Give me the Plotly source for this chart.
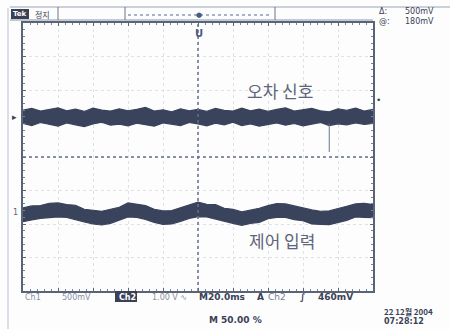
import plotly.graph_objects as go

# ---- data (time in ms, amplitude in divisions) ----
t = [-100, -95, -90, -85, -80, -75, -70, -65, -60, -55, -50, -45, -40, -35, -30,
     -25, -20, -15, -10, -5, 0, 5, 10, 15, 20, 25, 30, 35, 40, 45, 50, 55, 60,
     65, 70, 75, 80, 85, 90, 95, 100]

ch1_upper = [1.40, 1.45, 1.37, 1.42, 1.47, 1.38, 1.43, 1.36, 1.46, 1.40, 1.37,
             1.44, 1.38, 1.42, 1.48, 1.37, 1.41, 1.35, 1.44, 1.38, 1.42, 1.36,
             1.45, 1.39, 1.37, 1.46, 1.38, 1.43, 1.36, 1.42, 1.47, 1.37, 1.41,
             1.45, 1.38, 1.35, 1.44, 1.39, 1.46, 1.37, 1.42]
ch1_lower = [1.00, 0.94, 1.03, 0.97, 0.92, 1.02, 0.96, 0.91, 0.99, 1.04, 0.95,
             0.98, 0.93, 1.01, 0.96, 0.92, 1.02, 0.97, 0.94, 1.03, 0.99, 0.93,
             1.01, 0.96, 1.04, 0.94, 0.99, 0.92, 0.97, 1.02, 0.95, 1.00, 0.93,
             0.98, 1.03, 0.94, 0.99, 0.96, 1.02, 0.97, 1.00]

ch2_upper = [-1.52, -1.46, -1.45, -1.38, -1.37, -1.42, -1.44, -1.56, -1.59, -1.62,
             -1.56, -1.50, -1.37, -1.42, -1.45, -1.56, -1.61, -1.60, -1.51, -1.43,
             -1.35, -1.41, -1.42, -1.53, -1.56, -1.64, -1.59, -1.53, -1.45, -1.39,
             -1.40, -1.45, -1.52, -1.58, -1.62, -1.61, -1.55, -1.47, -1.40, -1.38,
             -1.42]
ch2_lower = [-1.93, -1.88, -1.83, -1.80, -1.79, -1.80, -1.86, -1.94, -2.00, -2.03,
             -1.98, -1.88, -1.79, -1.80, -1.86, -1.95, -2.01, -2.00, -1.92, -1.83,
             -1.78, -1.79, -1.84, -1.91, -1.98, -2.04, -1.98, -1.95, -1.84, -1.80,
             -1.80, -1.87, -1.90, -2.00, -2.01, -2.02, -1.95, -1.89, -1.79, -1.80,
             -1.81]

spike_t = [75, 75]
spike_y = [1.0, 0.15]

label_err = "오차 신호"
label_ctl = "제어 입력"

TRACE = "#3a435c"
TXT = "#5e6578"
DARK = "#3a4155"

# plot area in pixels: x 23..373, y 23..291
L, R, T, B = 23, 373, 23, 291
def px(x):
    return (x - L) / (R - L)
def py(y):
    return (B - y) / (B - T)

fig = go.Figure()

for up, lo in ((ch1_upper, ch1_lower), (ch2_upper, ch2_lower)):
    fig.add_trace(go.Scatter(
        x=t + t[::-1], y=up + lo[::-1], fill="toself", mode="lines",
        fillcolor=TRACE, line=dict(color=TRACE, width=1.2),
        hoverinfo="skip", showlegend=False))

fig.add_trace(go.Scatter(x=spike_t, y=spike_y, mode="lines",
                         line=dict(color="#6b7489", width=1),
                         hoverinfo="skip", showlegend=False))

axis_common = dict(showticklabels=False, zeroline=False, showline=True,
                   linecolor="#5a6479", linewidth=1.5, mirror="allticks",
                   ticks="inside", ticklen=3, tickcolor="#5a6479",
                   showgrid=True, gridcolor="#dde1e8", griddash="dot", gridwidth=1)
fig.update_xaxes(range=[-100, 100], dtick=20, tick0=-100,
                 minor=dict(ticks="inside", dtick=4, ticklen=2, tickcolor="#7a8398"),
                 **axis_common)
fig.update_yaxes(range=[-4, 4], dtick=1, tick0=-4,
                 minor=dict(ticks="inside", dtick=0.2, ticklen=2, tickcolor="#7a8398"),
                 **axis_common)

shapes = []
# center crosshair
shapes.append(dict(type="line", xref="x", yref="y", x0=0, x1=0, y0=-4, y1=4,
                   line=dict(color="#66708a", width=1.5, dash="dot")))
shapes.append(dict(type="line", xref="x", yref="y", x0=-100, x1=100, y0=0, y1=0,
                   line=dict(color="#66708a", width=1.5, dash="dot")))
# left screen edge
shapes.append(dict(type="line", xref="paper", yref="paper", x0=px(8), x1=px(8),
                   y0=py(8), y1=py(329), line=dict(color="#b9bfcc", width=1)))
# status bar
shapes.append(dict(type="line", xref="paper", yref="paper", x0=px(10), x1=px(450),
                   y0=py(7), y1=py(7), line=dict(color="#9aa2b3", width=1)))
shapes.append(dict(type="line", xref="paper", yref="paper", x0=px(10), x1=px(373),
                   y0=py(20), y1=py(20), line=dict(color="#8a93a6", width=1)))
for xd in (58, 125, 275):
    shapes.append(dict(type="line", xref="paper", yref="paper", x0=px(xd), x1=px(xd),
                       y0=py(7), y1=py(20), line=dict(color="#6a7388", width=1)))
shapes.append(dict(type="line", xref="paper", yref="paper", x0=px(128), x1=px(272),
                   y0=py(15), y1=py(15), line=dict(color="#8a9ab8", width=1.5, dash="dot")))
shapes.append(dict(type="rect", xref="paper", yref="paper", x0=px(11), x1=px(29),
                   y0=py(9), y1=py(19), fillcolor="#3a4155", line=dict(width=0)))
shapes.append(dict(type="rect", xref="paper", yref="paper", x0=px(115), x1=px(137),
                   y0=py(291), y1=py(302), fillcolor="#3a4155", line=dict(width=0)))
fig.update_layout(shapes=shapes)

ann = []
def add_text(text, x, y, size=9, color=TXT, xanchor="left", family="DejaVu Sans", bold=False):
    if bold:
        text = "<b>" + text + "</b>"
    ann.append(dict(text=text, xref="paper", yref="paper", x=px(x), y=py(y),
                    xanchor=xanchor, yanchor="middle", showarrow=False,
                    font=dict(size=size, color=color, family=family)))

add_text(label_err, 280, 90, size=17, xanchor="center", family="Noto Sans CJK KR")
add_text(label_ctl, 282, 240, size=17, xanchor="center", family="Noto Sans CJK KR")

add_text("Tek", 11, 14, size=7, color="white", bold=True)
add_text("정지", 33, 14, size=8, color=DARK, family="Noto Sans CJK KR")
add_text("●", 199, 15, size=7, color="#4a5a80", xanchor="center")
add_text("U", 199, 33, size=10, color="#4a5a80", xanchor="center", bold=True)
add_text("▸", 10, 117, size=9, color=DARK)
add_text("1", 11, 213, size=8, color=TXT)
add_text("•", 374, 100, size=9, color=DARK)

add_text("Δ:", 377, 12, size=8, color=DARK)
add_text("500mV", 403, 12, size=8, color=DARK)
add_text("@:", 377, 22, size=8, color=DARK)
add_text("180mV", 403, 22, size=8, color=DARK)

add_text("Ch1", 23, 297, size=8, color="#8a90a0")
add_text("500mV", 60, 297, size=8, color="#8a90a0")
add_text("Ch2", 117, 297, size=8, color="white", bold=True)
add_text("1.00 V ∿", 150, 297, size=8, color="#8a90a0")
add_text("M20.0ms", 197, 297, size=9, color=DARK, bold=True)
add_text("A", 255, 297, size=9, color=DARK, bold=True)
add_text("Ch2", 266, 297, size=9, color="#7a8090")
add_text("∫", 298, 297, size=9, color=DARK, bold=True)
add_text("460mV", 316, 297, size=9, color=DARK, bold=True)

add_text("M 50.00 %", 207, 320, size=9, color=DARK, bold=True)
add_text("22 12월 2004", 382, 311, size=8, color=DARK, bold=True, family="Noto Sans CJK KR")
add_text("07:28:12", 382, 321, size=8, color=DARK, bold=True)

fig.update_layout(
    annotations=ann,
    width=450, height=329,
    margin=dict(l=L, r=450 - R, t=T, b=329 - B, pad=0),
    paper_bgcolor="#fdfdfd", plot_bgcolor="#fdfdfd",
    showlegend=False,
)

fig.write_html("out.html", config={"displayModeBar": False},
               post_script="document.body.style.margin='0';document.body.style.overflow='hidden';")
